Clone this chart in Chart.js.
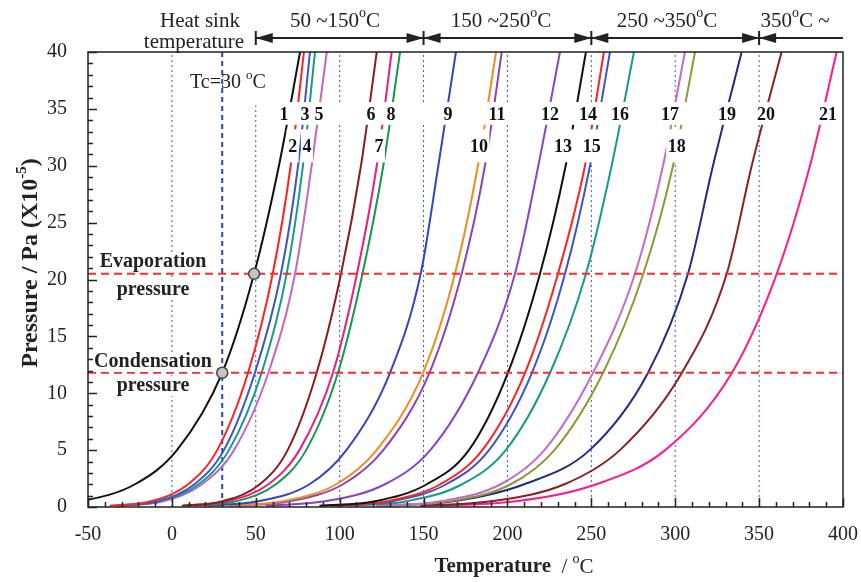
<!DOCTYPE html>
<html>
<head>
<meta charset="utf-8">
<script src="https://cdn.jsdelivr.net/npm/chart.js@4.4.0/dist/chart.umd.min.js"></script>
<style>
  html, body { margin: 0; padding: 0; background: #fff; }
</style>
</head>
<body>
<canvas id="chart" width="861" height="582"></canvas>
<script>
var pressureLevels = [0.1, 0.5, 2, 5, 11.8, 20.5, 30, 40];

// temperature (degC) of each fluid at the pressure levels above
var t1 = [-89, -55, -22, 3, 30, 49, 63.8, 76.4];
var t2 = [-37, -12.6, 9.7, 27, 45.4, 60.1, 70.8, 78.7];
var t3 = [-33, -8.8, 13.5, 31, 49.5, 65, 75.2, 82.3];
var t4 = [-32, -7.5, 16, 34, 53.5, 68.4, 78.1, 85.3];
var t5 = [-30, -5, 18, 37, 57.5, 73.4, 83.3, 92.3];
var t6 = [6, 30, 52.4, 69, 86.3, 100.8, 112.7, 122.1];
var t7 = [7, 33, 57.5, 76, 96, 110.3, 122.1, 131];
var t8 = [13, 38, 62, 80, 99, 113.6, 126, 136];
var t9 = [21, 51.5, 82, 104, 130, 148.3, 158.8, 169.3];
var t10 = [34, 66, 98, 122, 149.7, 168.7, 182.4, 193.2];
var t11 = [38, 70, 102, 126, 153.5, 172.7, 186.6, 196.6];
var t12 = [56, 91, 127, 154, 182.4, 204.5, 218.4, 231.3];
var t13 = [88, 121, 152, 177, 200.3, 219.4, 234.7, 246.8];
var t14 = [95, 128, 160, 185, 210.5, 230.1, 246.2, 257.5];
var t15 = [98, 131, 163.5, 189, 214.6, 234.3, 249.2, 261.1];
var t16 = [105, 140, 173, 199, 225.4, 246.8, 262.1, 275.4];
var t17 = [122, 160, 196, 222, 251, 276, 292.7, 305.8];
var t18 = [126, 165, 202, 228, 257, 281, 298.7, 311.8];
var t19 = [128, 168, 210, 249, 283.8, 307.6, 322.5, 339.6];
var t20 = [148, 190, 234, 267, 304, 330.7, 345.6, 363.4];
var t21 = [160, 205, 253, 294, 333.8, 360.5, 380.3, 396.2];

var curveTemps = [t1, t2, t3, t4, t5, t6, t7, t8, t9, t10, t11, t12, t13, t14, t15, t16, t17, t18, t19, t20, t21];
var curveNames = ["1", "2", "3", "4", "5", "6", "7", "8", "9", "10", "11", "12", "13", "14", "15", "16", "17", "18", "19", "20", "21"];
var curveColors = ["#111111", "#ff2222", "#3a56c8", "#139b8a", "#c266c8", "#8b1c1c", "#ee1c7c", "#139a4a", "#3346c0",
  "#f28c1e", "#8a44b8", "#8a44c0", "#111111", "#ff2222", "#3a56c8", "#169a8a", "#c86ac8", "#8c9a34", "#222a88",
  "#8b2020", "#ff1a8c"];

var rangeLines = [0, 50, 100, 150, 200, 250, 300, 350];
var sinkTemp = 30;
var evapPressure = 20.5;
var condPressure = 11.8;
var markerTemps = [49, 30];
var markerPressures = [20.5, 11.8];
var rangeBounds = [50, 150, 250, 350];
var rangeTitles = ["50 ~150", "150 ~250", "250 ~350", "350"];

var xMin = -50, xMax = 400, yMin = 0, yMax = 40;

// where the curve numbers sit (temperature), upper and lower row
var upperRow = ["1", "3", "5", "6", "8", "9", "11", "12", "14", "16", "17", "19", "20", "21"];
var upperRowT = [66.8, 79.3, 87.7, 118.7, 130.6, 164.6, 193.8, 225.4, 248, 267.1, 296.9, 330.9, 354.1, 391.1];
var lowerRow = ["2", "4", "7", "10", "13", "15", "18"];
var lowerRowT = [72, 80.5, 123.4, 183, 233.1, 250.2, 300.9];

var serif = '"Liberation Serif", "DejaVu Serif", serif';

var datasets = [];
rangeLines.forEach(function (t) {
  datasets.push({
    data: [{ x: t, y: yMin }, { x: t, y: yMax }],
    borderColor: "#4050c8", borderWidth: 1, borderDash: [2, 3],
    pointRadius: 0, order: 6
  });
});
datasets.push({
  data: [{ x: sinkTemp, y: yMin }, { x: sinkTemp, y: yMax }],
  borderColor: "#2a44c8", borderWidth: 2, borderDash: [5, 4],
  pointRadius: 0, order: 5
});
curveTemps.forEach(function (temps, i) {
  datasets.push({
    label: curveNames[i],
    data: temps.map(function (t, j) { return { x: t, y: pressureLevels[j] }; }),
    borderColor: curveColors[i], borderWidth: 2, pointRadius: 0,
    cubicInterpolationMode: "monotone", order: 3
  });
});
[evapPressure, condPressure].forEach(function (p) {
  datasets.push({
    data: [{ x: xMin, y: p }, { x: xMax, y: p }],
    borderColor: "#ff2a2a", borderWidth: 2, borderDash: [8, 5],
    pointRadius: 0, order: 1
  });
});
datasets.push({
  data: markerTemps.map(function (t, i) { return { x: t, y: markerPressures[i] }; }),
  showLine: false, pointRadius: 5.5, pointBackgroundColor: "#c4c4c4",
  pointBorderColor: "#444", pointBorderWidth: 1.5, order: 0
});

function drawParts(ctx, parts, x, y, align) {
  var w = 0;
  parts.forEach(function (p) { ctx.font = p[1]; w += ctx.measureText(p[0]).width; });
  var cx = align === "center" ? x - w / 2 : x;
  parts.forEach(function (p) {
    ctx.font = p[1];
    ctx.fillText(p[0], cx, y + (p[2] || 0));
    cx += ctx.measureText(p[0]).width;
  });
  return w;
}

function whiteBox(ctx, x0, y0, x1, y1) {
  ctx.fillStyle = "#fff";
  ctx.fillRect(x0, y0, x1 - x0, y1 - y0);
}

function arrowHead(ctx, tipX, y, dir) {
  ctx.beginPath();
  ctx.moveTo(tipX, y);
  ctx.lineTo(tipX + dir * 17, y - 5);
  ctx.lineTo(tipX + dir * 17, y + 5);
  ctx.closePath();
  ctx.fill();
}

var overlay = {
  id: "overlay",
  afterDatasetsDraw: function (chart) {
    var ctx = chart.ctx, xs = chart.scales.x, ys = chart.scales.y, a = chart.chartArea;
    ctx.save();
    ctx.textBaseline = "middle";
    ctx.textAlign = "left";

    // band behind the upper row of numbers
    whiteBox(ctx, xs.getPixelForValue(53.7), ys.getPixelForValue(35.6), a.right - 1, ys.getPixelForValue(33.6));
    var boldNum = "bold 18px " + serif;
    ctx.font = boldNum;
    var yUp = ys.getPixelForValue(34.4);
    var yLow = ys.getPixelForValue(31.6);
    upperRow.forEach(function (s, i) {
      ctx.fillStyle = "#111";
      drawParts(ctx, [[s, boldNum]], xs.getPixelForValue(upperRowT[i]), yUp, "center");
    });
    lowerRow.forEach(function (s, i) {
      ctx.font = boldNum;
      var w = ctx.measureText(s).width;
      var cx = xs.getPixelForValue(lowerRowT[i]);
      whiteBox(ctx, cx - w / 2 - 1.5, ys.getPixelForValue(33.2), cx + w / 2 + 1.5, ys.getPixelForValue(30.3));
      ctx.fillStyle = "#111";
      drawParts(ctx, [[s, boldNum]], cx, yLow, "center");
    });

    // Tc label
    var norm = "20px " + serif, sup = "13px " + serif;
    whiteBox(ctx, xs.getPixelForValue(41), a.top + 1, xs.getPixelForValue(54), ys.getPixelForValue(35.3));
    ctx.fillStyle = "#222";
    drawParts(ctx, [["Tc=30 ", norm], ["o", sup, -7], ["C", norm]], 190, ys.getPixelForValue(37.3), "left");

    // evaporation / condensation labels
    var bold = "bold 20px " + serif;
    [["Evaporation", 262], ["pressure", 290], ["Condensation", 362], ["pressure", 386]].forEach(function (l) {
      ctx.font = bold;
      var w = ctx.measureText(l[0]).width;
      whiteBox(ctx, 153 - w / 2 - 2, l[1] - 10, 153 + w / 2 + 2, l[1] + 10);
      ctx.fillStyle = "#222";
      drawParts(ctx, [[l[0], bold]], 153, l[1], "center");
    });
    ctx.restore();
  },
  afterDraw: function (chart) {
    var ctx = chart.ctx, xs = chart.scales.x, ys = chart.scales.y, a = chart.chartArea;
    ctx.save();
    ctx.strokeStyle = "#222";
    ctx.lineWidth = 1.5;
    ctx.strokeRect(a.left, a.top, a.right - a.left, a.bottom - a.top);
    ctx.beginPath();
    for (var v = yMin; v <= yMax; v++) {
      var py = Math.round(ys.getPixelForValue(v)) + 0.5;
      ctx.moveTo(a.left, py);
      ctx.lineTo(a.left + (v % 5 === 0 ? 9 : 5), py);
    }
    for (var t = xMin; t <= xMax; t += 10) {
      var px = Math.round(xs.getPixelForValue(t)) + 0.5;
      ctx.moveTo(px, a.bottom);
      ctx.lineTo(px, a.bottom - (t % 50 === 0 ? 9 : 5));
    }
    ctx.stroke();

    ctx.fillStyle = "#222";
    ctx.textBaseline = "middle";
    ctx.textAlign = "left";
    var norm = "21px " + serif, bold = "bold 21px " + serif, sup = "14px " + serif;

    // x title
    drawParts(ctx, [["Temperature", bold], ["  / ", norm], ["o", sup, -8], ["C", norm]], 514, 567, "center");

    // y title
    ctx.save();
    ctx.translate(31, 263);
    ctx.rotate(-Math.PI / 2);
    var by = "bold 24px " + serif;
    drawParts(ctx, [["Pressure / Pa (X10", by], ["-5", "bold 15px " + serif, -9], [")", by]], 0, 0, "center");
    ctx.restore();

    // heat sink heading
    drawParts(ctx, [["Heat sink", norm]], 200, 21, "center");
    drawParts(ctx, [["temperature", norm]], 194, 42, "center");

    // temperature range arrows
    var ay = 38;
    var bx = rangeBounds.map(function (t) { return xs.getPixelForValue(t); });
    ctx.lineWidth = 2;
    ctx.beginPath();
    ctx.moveTo(bx[0], ay);
    ctx.lineTo(a.right, ay);
    bx.forEach(function (x) {
      ctx.moveTo(x, ay - 7);
      ctx.lineTo(x, ay + 7);
    });
    ctx.stroke();
    bx.forEach(function (x, i) {
      if (i > 0) arrowHead(ctx, x, ay, -1);
      arrowHead(ctx, x, ay, 1);
    });
    var titleT = [97.2, 196.2, 295.1, 371.4];
    rangeTitles.forEach(function (s, i) {
      var parts = [[s, norm], ["o", sup, -8], [i === 3 ? "C ~" : "C", norm]];
      drawParts(ctx, parts, xs.getPixelForValue(titleT[i]), 21, "center");
    });
    ctx.restore();
  }
};

new Chart(document.getElementById("chart"), {
  type: "line",
  data: { datasets: datasets },
  options: {
    responsive: false,
    animation: false,
    layout: { padding: { top: 52, right: 18, left: 0, bottom: 0 } },
    plugins: { legend: { display: false }, tooltip: { enabled: false } },
    scales: {
      x: {
        type: "linear", min: xMin, max: xMax,
        grid: { display: false }, border: { display: false },
        ticks: { stepSize: 50, autoSkip: false, maxRotation: 0, padding: 8, color: "#222",
          font: { family: serif, size: 20 } },
        afterFit: function (s) { s.height = 75; s.paddingLeft = 0; s.paddingRight = 0; }
      },
      y: {
        min: yMin, max: yMax,
        grid: { display: false }, border: { display: false },
        ticks: { stepSize: 5, padding: 13, color: "#222", font: { family: serif, size: 20 } },
        afterFit: function (s) { s.width = 88; s.paddingTop = 0; s.paddingBottom = 0; }
      }
    }
  },
  plugins: [overlay]
});
</script>
</body>
</html>
